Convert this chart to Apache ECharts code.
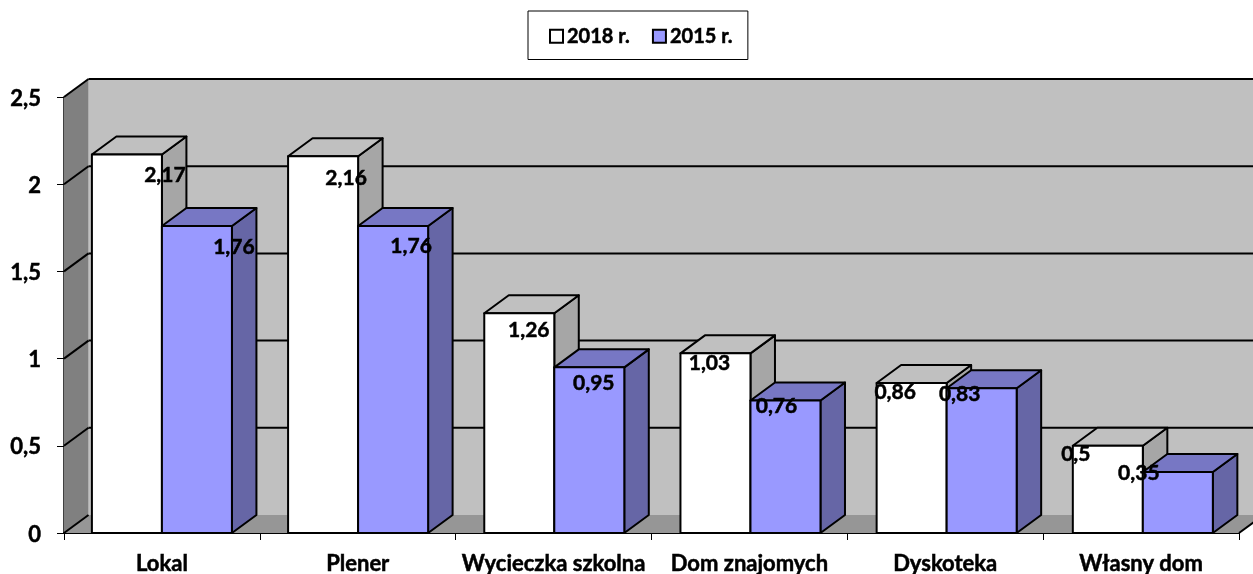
<!DOCTYPE html>
<html><head><meta charset="utf-8">
<style>html,body{margin:0;padding:0;background:#fff}#c{width:1253px;height:574px}</style>
<script src="https://cdn.jsdelivr.net/npm/echarts@6/dist/echarts.min.js"></script>
</head><body><div id="c"></div>
<script>
var categories = ['Lokal','Plener','Wycieczka szkolna','Dom znajomych','Dyskoteka','Własny dom'];
var values2018 = [2.17,2.16,1.26,1.03,0.86,0.5];
var values2015 = [1.76,1.76,0.95,0.76,0.83,0.35];
var yTicks = [0,0.5,1,1.5,2,2.5];
// label centre relative to the bar's top-left corner
var labelOffset2018 = [[73,21],[58,22],[44.5,17],[29,10],[18.5,9],[3,8]];
var labelOffset2015 = [[72,21],[53,20],[39.5,16],[26,6],[13,6],[-4,1]];

var DX = 24.5, DY = -18, BAR = 70 / 195.8, DRIFT = 0.35;
var FONT = 'Lato, Carlito, sans-serif', FS = 22;
var THICK = {textBorderColor:'#000', textBorderWidth:0.5};
var chart = echarts.init(document.getElementById('c'), null, {renderer:'canvas'});

function poly(pts, fill, stroke, lw) {
  return {type:'polygon', shape:{points:pts}, style:{fill:fill, stroke:stroke||null, lineWidth:lw||0, lineJoin:'round'}};
}
function line(a, b, lw, col) {
  return {type:'line', shape:{x1:a[0],y1:a[1],x2:b[0],y2:b[1]}, style:{stroke:col||'#000', lineWidth:lw||2}};
}

function wallsItem(params, api) {
  var band = api.size([1,0])[0];
  var p0 = api.coord([0, 0]), p1 = api.coord([categories.length-1, yTicks[yTicks.length-1]]);
  var x0 = p0[0]-band/2, x1 = p1[0]+band/2, y0 = p0[1], y1 = p1[1];
  return {type:'group', children:[
    poly([[x0+DX,y1+DY],[x1+DX,y1+DY],[x1+DX,y0+DY],[x0+DX,y0+DY]], '#c0c0c0'),
    poly([[x0,y1],[x0+DX,y1+DY],[x0+DX,y0+DY],[x0,y0]], '#808080'),
    poly([[x0,y0],[x0+DX,y0+DY],[x1+DX,y0+DY],[x1,y0]], '#969696')
  ]};
}
function gridItem(params, api) {
  var band = api.size([1,0])[0];
  var p = api.coord([0, api.value(1)]), q = api.coord([categories.length-1, api.value(1)]);
  var x0 = p[0]-band/2, x1 = q[0]+band/2, y = p[1], kids = [line([x0,y],[x0+DX,y+DY],2)];
  if (api.value(1) > 0) kids.push(line([x0+DX,y+DY],[x1+DX,y+DY],2));
  else kids.push(line([x1,y],[x1+DX,y+DY],2));
  return {type:'group', children:kids};
}
function barItem(side, front, top, right) {
  return function(params, api) {
    var i = api.value(0), v = api.value(1);
    var c = api.coord([i, v]), b = api.coord([i, 0]), w = api.size([1,0])[0]*BAR;
    var xl = c[0] + (side < 0 ? -w : 0) + i*DRIFT, xr = xl + w, yt = c[1], yb = b[1];
    return {type:'group', children:[
      poly([[xr,yt],[xr+DX,yt+DY],[xr+DX,yb+DY],[xr,yb]], right, '#000', 2),
      poly([[xl,yt],[xl+DX,yt+DY],[xr+DX,yt+DY],[xr,yt]], top, '#000', 2),
      poly([[xl,yt],[xr,yt],[xr,yb],[xl,yb]], front, '#000', 2)
    ]};
  };
}
function labelItem(side, offsets, vals) {
  return function(params, api) {
    var i = api.value(0), v = api.value(1);
    var c = api.coord([i, v]), w = api.size([1,0])[0]*BAR;
    var xl = c[0] + (side < 0 ? -w : 0) + i*DRIFT, o = offsets[i];
    return {type:'text', z2:100, style:{
      text:String(vals[i]).replace('.',','), x:xl+o[0], y:c[1]+o[1],
      align:'center', verticalAlign:'middle', fill:'#000', stroke:'#000', lineWidth:0.5,
      font:'bold 21px '+FONT
    }};
  };
}
function pairs(arr){ return arr.map(function(v,i){return [i,v];}); }

chart.setOption({
  animation:false,
  backgroundColor:'#fff',
  grid:{left:64, right:14, top:97, bottom:41, containLabel:false, outerBoundsMode:'none'},
  legend:{
    left:528, top:11, orient:'horizontal',
    padding:[15,15,13,21], borderColor:'#000', borderWidth:1, backgroundColor:'#fff',
    itemWidth:13, itemHeight:13, itemGap:22, icon:'rect',
    textStyle:Object.assign({fontFamily:FONT, fontWeight:'bold', fontSize:20, color:'#000', padding:[0,0,0,-1]}, THICK),
    data:[
      {name:'2018 r.', itemStyle:{color:'#fff', borderColor:'#000', borderWidth:2}},
      {name:'2015 r.', itemStyle:{color:'#9999ff', borderColor:'#000', borderWidth:2}}
    ]
  },
  xAxis:{
    type:'category', data:categories,
    axisLine:{show:true, onZero:false, lineStyle:{color:'#000', width:2}},
    axisTick:{show:true, length:7, lineStyle:{color:'#000', width:1}},
    axisLabel:Object.assign({interval:0, margin:20, fontFamily:FONT, fontWeight:'bold', fontSize:FS, color:'#000'}, THICK),
    splitLine:{show:false}
  },
  yAxis:{
    type:'value', min:0, max:2.5, interval:0.5,
    axisLine:{show:true, lineStyle:{color:'#000', width:1.5}},
    axisTick:{show:true, length:7, lineStyle:{color:'#000', width:1}},
    axisLabel:{margin:23, formatter:function(v){return '{a|'+String(v).replace('.',',')+'}';},
      rich:{a:Object.assign({fontFamily:FONT, fontWeight:'bold', fontSize:FS, color:'#000', padding:[3,0,0,0]}, THICK)}},
    splitLine:{show:false}
  },
  series:[
    {type:'custom', name:'walls', silent:true, z:1, renderItem:wallsItem, data:[[0,0]], clip:false},
    {type:'custom', name:'grid', silent:true, z:2, renderItem:gridItem, data:yTicks.map(function(v){return [0,v];}), clip:false},
    {type:'custom', name:'2018 r.', z:3, renderItem:barItem(-1,'#ffffff','#c0c0c0','#a6a6a6'), data:pairs(values2018), clip:false,
      itemStyle:{color:'#fff', borderColor:'#000', borderWidth:2}},
    {type:'custom', name:'2015 r.', z:4, renderItem:barItem(1,'#9999ff','#7777c4','#6666a6'), data:pairs(values2015), clip:false,
      itemStyle:{color:'#9999ff', borderColor:'#000', borderWidth:2}},
    {type:'custom', name:'labels2018', silent:true, z:5, renderItem:labelItem(-1,labelOffset2018,values2018), data:pairs(values2018), clip:false},
    {type:'custom', name:'labels2015', silent:true, z:5, renderItem:labelItem(1,labelOffset2015,values2015), data:pairs(values2015), clip:false}
  ]
});
</script></body></html>
